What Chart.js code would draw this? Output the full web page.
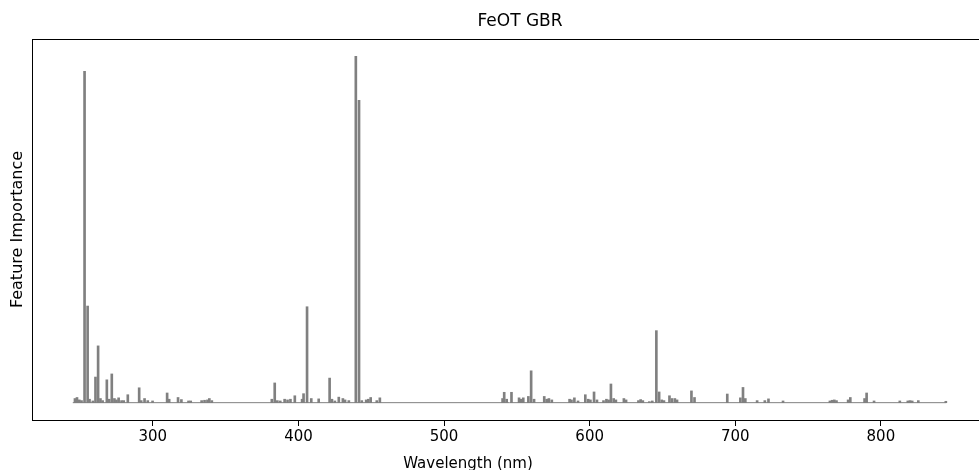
<!DOCTYPE html>
<html>
<head>
<meta charset="utf-8">
<script src="https://cdn.jsdelivr.net/npm/chart.js@4.4.1/dist/chart.umd.min.js"></script>
<style>
  html, body { margin: 0; padding: 0; background: #fff; overflow: hidden; }
  #wrap { width: 993px; height: 470px; }
</style>
</head>
<body>
<div id="wrap"><canvas id="c" width="993" height="470"></canvas></div>
<script>
// ---- data ----
const chartTitle = "FeOT GBR";
const xLabel = "Wavelength (nm)";
const yLabel = "Feature Importance";
const xTickValues = [300, 400, 500, 600, 700, 800];
const baselineX = [245, 845];

const wavelengths = [
  246.5, 247.9, 249.5, 251, 253.1, 255.2, 256.5, 258.8, 260.6, 262.4, 264, 265.5,
  268.4, 270, 271.8, 273.6, 275, 276.5, 278.5, 280, 282.8, 290.6, 292, 294.3, 296.5,
  299.8, 309.8, 311.2, 317.3, 319.6, 324.5, 326, 333.5, 335.5, 337.5, 338.8, 340.5,
  381.7, 383.7, 385.5, 387.5, 390.5, 392.5, 394.5, 397.5, 402.5, 403.5, 405.9, 408.8,
  413.9, 421.4, 423, 425, 427.7, 430.5, 432, 434.6, 439.4, 441.6, 443.5, 446.5, 448,
  449.6, 453.8, 455.9,
  540.2, 541.3, 543, 546.3, 551.5, 553, 554.4, 557.9, 559.8, 561.8, 568.8, 570.5, 572,
  574, 586.2, 587.5, 589.5, 592, 597, 599, 600.5, 603, 605, 609.5, 611.5, 613, 614.6,
  616.5, 618, 623.5, 625, 633.5, 635, 636.5, 641, 643, 645.8, 647.7, 649.5, 651,
  654.8, 656.5, 658.5, 660, 669.9, 672, 694.5, 703.5, 705.3, 706.9, 715, 720.3, 722.8,
  732.8, 765, 766.5, 768, 769.5, 777.5, 779, 788.8, 790.2, 795.3, 813, 818.5, 820,
  821.5, 825.7, 844.6
];
const importance = [
  0.012, 0.015, 0.008, 0.006, 0.957, 0.279, 0.010, 0.005, 0.074, 0.164, 0.012, 0.006,
  0.066, 0.010, 0.083, 0.012, 0.008, 0.014, 0.006, 0.006, 0.023, 0.043, 0.006, 0.012, 0.006,
  0.005, 0.028, 0.010, 0.015, 0.009, 0.005, 0.005, 0.006, 0.007, 0.008, 0.012, 0.006,
  0.010, 0.057, 0.006, 0.005, 0.010, 0.008, 0.010, 0.020, 0.010, 0.026, 0.277, 0.012,
  0.011, 0.071, 0.010, 0.005, 0.016, 0.012, 0.008, 0.006, 1.000, 0.873, 0.006, 0.008, 0.010,
  0.015, 0.006, 0.014,
  0.012, 0.030, 0.010, 0.030, 0.014, 0.010, 0.014, 0.018, 0.092, 0.010, 0.018, 0.010, 0.012,
  0.008, 0.010, 0.008, 0.014, 0.005, 0.023, 0.010, 0.008, 0.031, 0.008, 0.006, 0.010, 0.008, 0.054,
  0.012, 0.008, 0.012, 0.008, 0.006, 0.009, 0.006, 0.003, 0.005, 0.208, 0.031, 0.008, 0.006,
  0.020, 0.012, 0.012, 0.008, 0.034, 0.015, 0.025, 0.014, 0.044, 0.012, 0.006, 0.006, 0.011,
  0.005, 0.005, 0.007, 0.008, 0.006, 0.008, 0.015, 0.012, 0.028, 0.005, 0.005, 0.005, 0.006,
  0.005, 0.006, 0.004
];

// ---- chart ----
Chart.defaults.font.family = "'DejaVu Sans', sans-serif";
Chart.defaults.color = '#000';

const yMax = Math.max(...importance);
const yPad = yMax * 0.05;

// frame (all four spines) plus the title and x-axis label texts
const framePlugin = {
  id: 'frame',
  afterDraw(chart) {
    const a = chart.chartArea, ctx = chart.ctx;
    ctx.save();
    ctx.strokeStyle = '#000';
    ctx.lineWidth = 1;
    ctx.strokeRect(Math.round(a.left) + 0.5, Math.round(a.top) + 0.5,
                   Math.round(a.right - a.left), Math.round(a.bottom - a.top));
    ctx.fillStyle = '#000';
    ctx.textAlign = 'center';
    ctx.textBaseline = 'middle';
    ctx.font = "17px 'DejaVu Sans', sans-serif";
    ctx.fillText(chartTitle, 520, 22);
    ctx.font = "15px 'DejaVu Sans', sans-serif";
    ctx.fillText(xLabel, 468, 464);
    ctx.restore();
  }
};

new Chart(document.getElementById('c'), {
  data: {
    datasets: [
      {
        type: 'bar',
        data: wavelengths.map((w, i) => ({ x: w, y: importance[i] })),
        backgroundColor: '#808080',
        borderWidth: 0,
        barThickness: 2,
        order: 1
      },
      {
        type: 'line',
        data: baselineX.map(w => ({ x: w, y: 0 })),
        borderColor: '#808080',
        borderWidth: 1,
        pointRadius: 0,
        order: 2
      }
    ]
  },
  options: {
    responsive: false,
    animation: false,
    devicePixelRatio: 1,
    layout: { padding: { top: 39 } },
    plugins: {
      legend: { display: false },
      tooltip: { enabled: false },
      title: { display: false }
    },
    scales: {
      x: {
        type: 'linear',
        offset: false,
        min: 217,
        max: 877,
        afterBuildTicks: s => { s.ticks = xTickValues.map(v => ({ value: v })); },
        afterFit: s => { s.height = 50; },
        ticks: { font: { size: 15 }, color: '#000', padding: 2, maxRotation: 0 },
        grid: { display: true, offset: false, drawOnChartArea: false, drawTicks: true, tickLength: 6, color: '#000' },
        border: { display: false },
        title: { display: false }
      },
      y: {
        min: -yPad,
        max: yMax + yPad,
        afterFit: s => { s.width = 32; },
        ticks: { display: false },
        grid: { display: false, drawTicks: false },
        border: { display: false },
        title: { display: true, text: yLabel, font: { size: 16 }, color: '#000', padding: { top: 8, bottom: 0 } }
      }
    }
  },
  plugins: [framePlugin]
});
</script>
</body>
</html>
